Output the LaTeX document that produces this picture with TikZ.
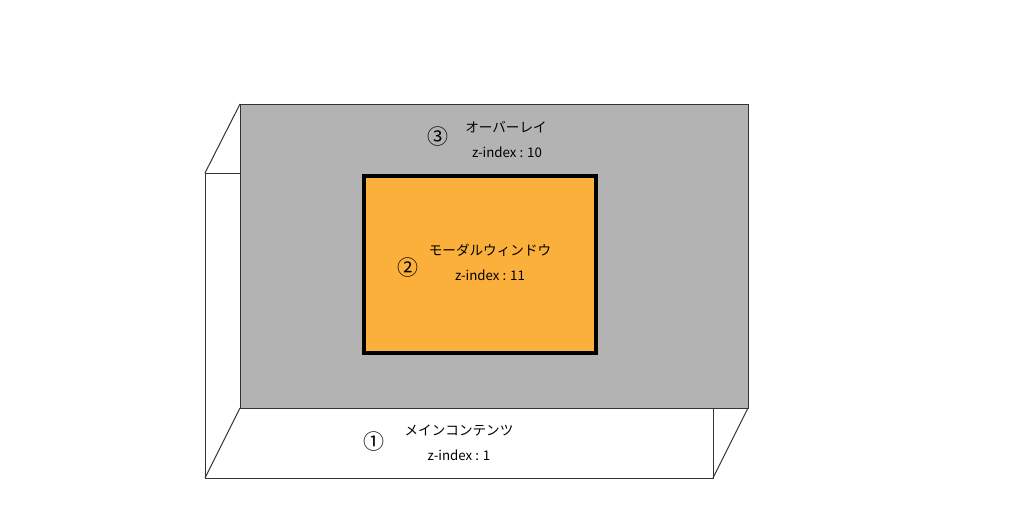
\documentclass[tikz,border=0pt]{standalone}
\usepackage{fontspec}
\newfontfamily\jpfont{Noto Sans CJK JP}
\definecolor{overlaygray}{HTML}{B3B3B3}
\definecolor{modalorange}{HTML}{FBB03B}
\definecolor{edge}{HTML}{333333}
\begin{document}
\begin{tikzpicture}[x=1pt,y=-1pt,
  thinline/.style={draw=edge,line width=1pt},
  lbl/.style={font=\jpfont\fontsize{13.6}{15}\selectfont,inner sep=0pt,text=black},
  zlbl/.style={font=\jpfont\fontsize{13.3}{15}\selectfont,inner sep=0pt,text=black},
  num/.style={font=\jpfont\fontsize{21}{22}\selectfont,inner sep=0pt,text=black}]
\useasboundingbox (0,0) rectangle (1024,512);
% main content front face
\fill[white] (205,173) rectangle (713,478);
\draw[thinline] (205,173) rectangle (713,478);
% overlay
\fill[overlaygray] (240,104) rectangle (748,408);
\draw[thinline] (240,104) rectangle (748,408);
% depth edges
\coordinate (ftl) at (205,173);
\coordinate (btl) at (240,104);
\coordinate (fbl) at (205,478);
\coordinate (bbl) at (240,408);
\coordinate (fbr) at (713,478);
\coordinate (bbr) at (748,408);
\draw[thinline] (ftl) -- (btl);
\draw[thinline] (fbl) -- (bbl);
\draw[thinline] (fbr) -- (bbr);
% modal
\draw[fill=modalorange,draw=black,line width=3.5pt] (364,176) rectangle (596,353);
% labels
\node[num] (n3) at (438,137) {③};
\node[lbl] (t3) at (506,127) {オーバーレイ};
\node[zlbl] (z3) at (507,152) {z-index : 10};
\node[num] (n2) at (408,268) {②};
\node[lbl] (t2) at (490,250) {モーダルウィンドウ};
\node[zlbl] (z2) at (490,275) {z-index : 11};
\node[num] (n1) at (374,442) {①};
\node[lbl] (t1) at (459,430) {メインコンテンツ};
\node[zlbl] (z1) at (459,455) {z-index : 1};
\end{tikzpicture}
\end{document}
